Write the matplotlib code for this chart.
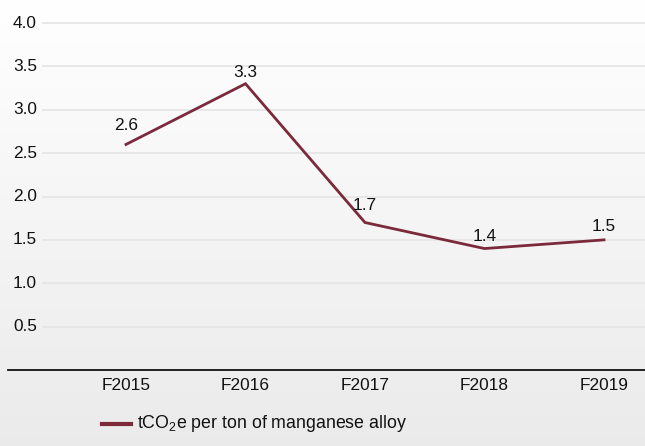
import matplotlib
matplotlib.use("Agg")
import matplotlib.pyplot as plt
import numpy as np
from matplotlib.transforms import blended_transform_factory
from matplotlib.lines import Line2D

plt.rcParams['font.family'] = ['Liberation Sans', 'DejaVu Sans']
plt.rcParams['mathtext.default'] = 'regular'

years = ["F2015", "F2016", "F2017", "F2018", "F2019"]
values = [2.6, 3.3, 1.7, 1.4, 1.5]
value_labels = ["2.6", "3.3", "1.7", "1.4", "1.5"]
yticks = [0.5, 1.0, 1.5, 2.0, 2.5, 3.0, 3.5, 4.0]
series_name = "tCO$_2$e per ton of manganese alloy"
label_offsets = [8, 3, 7, 3, 4]

W, H = 645, 446
FS = 12.4
fig = plt.figure(figsize=(W / 100, H / 100), dpi=100)

# gradient background
bg = fig.add_axes([0, 0, 1, 1], zorder=-10)
grad = np.linspace(1.0, 0.0, 256).reshape(-1, 1)
top = np.array([1.0, 1.0, 1.0])
bot = np.array([0.92, 0.92, 0.92])
img = (top * grad[..., None] + bot * (1 - grad[..., None]))
img = img.reshape(256, 1, 3)
bg.imshow(img, aspect='auto', extent=[0, 1, 0, 1], origin='upper')
bg.set_axis_off()

# axes placement in pixels
ax_left_px, ax_right_px = 8, 645
y0_px, y4_px = 370, 23  # pixel rows for y=0 and y=4.0
ppu_y = (y0_px - y4_px) / 4.0
ytop_val = y0_px / ppu_y
ax = fig.add_axes([ax_left_px / W, (H - y0_px) / H, (ax_right_px - ax_left_px) / W, y0_px / H])
ax.patch.set_alpha(0)

x = np.arange(len(years))
x0_px, ppu_x = 126, 119.5
ax.set_xlim((ax_left_px - x0_px) / ppu_x, (ax_right_px - x0_px) / ppu_x)
ax.set_ylim(0, ytop_val)

grid_start = (43 - ax_left_px) / (ax_right_px - ax_left_px)
for yv in yticks:
    ax.axhline(yv, xmin=grid_start, xmax=1, color='#e6e6e6', lw=1.3, zorder=1)

ax.plot(x, values, color='#7b2a3b', lw=2.0, zorder=3, solid_joinstyle='miter')

for xi, v, lab, off in zip(x, values, value_labels, label_offsets):
    ax.annotate(lab, (xi, v), xytext=(0, off), textcoords='offset points',
                ha='center', va='bottom', fontsize=FS, color='#111111')

tr = blended_transform_factory(fig.transFigure, ax.transData)
for yv in yticks:
    ax.text(13 / W, yv, f"{yv:.1f}", transform=tr, ha='left', va='center',
            fontsize=FS, color='#111111')

for s in ['top', 'right', 'left']:
    ax.spines[s].set_visible(False)
ax.spines['bottom'].set_color('#111111')
ax.spines['bottom'].set_linewidth(1.3)
ax.set_yticks([])
ax.set_xticks(x)
ax.set_xticklabels(years, fontsize=FS, color='#111111')
ax.tick_params(axis='x', length=0, pad=6)

# legend
ly = 1 - 424 / H
fig.add_artist(Line2D([102 / W, 131 / W], [ly, ly], color='#7b2a3b', lw=3.0,
                      transform=fig.transFigure))
fig.text(137 / W, ly, series_name, ha='left', va='center', fontsize=12.8,
         color='#111111')

fig.savefig("out.png", dpi=100)
